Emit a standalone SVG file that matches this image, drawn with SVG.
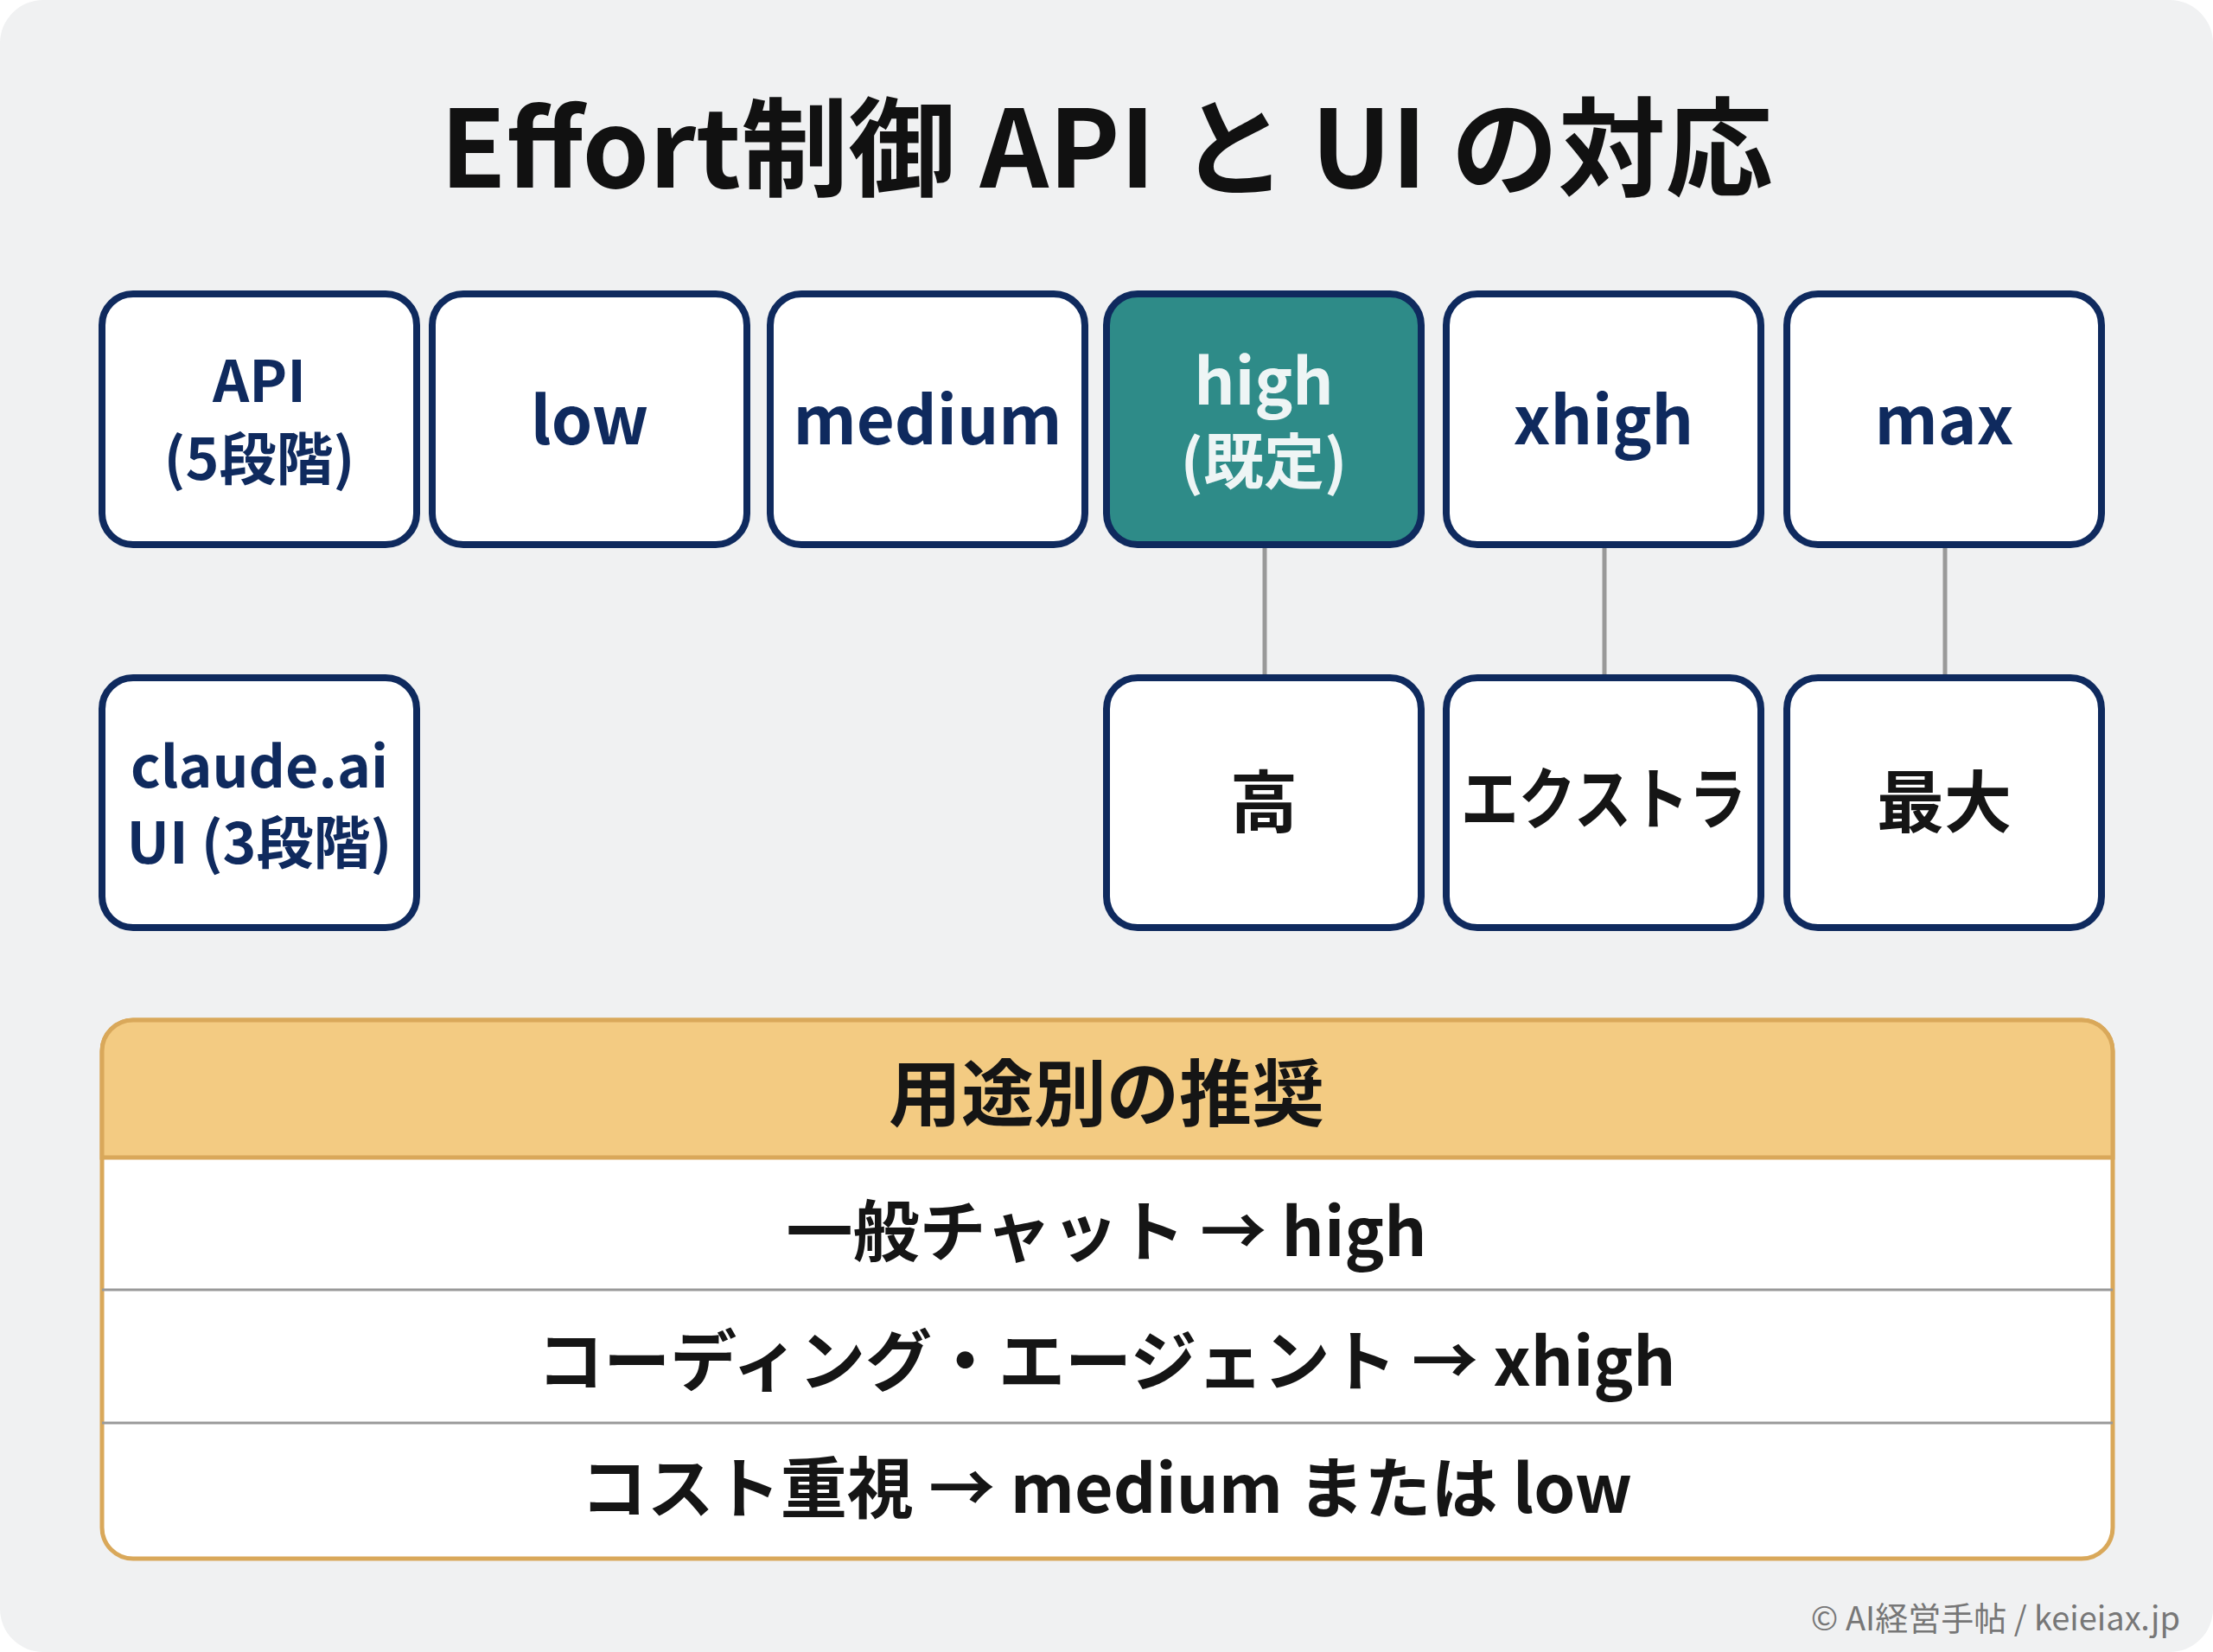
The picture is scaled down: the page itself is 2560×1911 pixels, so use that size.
<svg xmlns="http://www.w3.org/2000/svg" width="2560" height="1911" viewBox="0 0 2560 1911">
<style>
text{font-family:"Noto Sans CJK JP","Noto Sans",sans-serif;font-weight:700;text-anchor:middle}
.b{fill:#fff;stroke:#0f2a5e;stroke-width:8}
.n{fill:#0f2a5e;font-size:66px}
.l{fill:#0f2a5e;font-size:76px}
.k{fill:#151515;font-size:78px}
.r{fill:#151515;font-size:77px}
.c line{stroke:#999;stroke-width:5}
</style>
<rect width="2560" height="1911" fill="#fff"/>
<rect x="0" y="0" width="2560" height="1911" rx="50" fill="#f0f1f2"/>
<text x="1280" y="217" font-size="124" fill="#111">Effort制御 API と UI の対応</text>
<g class="c" id="connectors">
<line x1="1463" y1="631" x2="1463" y2="784"/>
<line x1="1856" y1="631" x2="1856" y2="784"/>
<line x1="2250" y1="631" x2="2250" y2="784"/>
</g>
<g id="api"><rect class="b" x="118" y="340" width="364" height="290" rx="36"/><text class="n" x="300" y="465">API</text><text class="n" x="300" y="555">(5段階)</text></g>
<g id="low"><rect class="b" x="500" y="340" width="364" height="290" rx="36"/><text class="l" x="682" y="514">low</text></g>
<g id="medium"><rect class="b" x="891" y="340" width="364" height="290" rx="36"/><text class="l" x="1073" y="514">medium</text></g>
<g id="high"><rect x="1280" y="340" width="364" height="290" rx="36" fill="#2e8b88" stroke="#0f2a5e" stroke-width="8"/><text x="1462" y="468" font-size="74" fill="#eef5f5">high</text><text x="1462" y="560" font-size="70" fill="#eef5f5">(既定)</text></g>
<g id="xhigh"><rect class="b" x="1673" y="340" width="364" height="290" rx="36"/><text class="l" x="1855" y="514">xhigh</text></g>
<g id="max"><rect class="b" x="2067" y="340" width="364" height="290" rx="36"/><text class="l" x="2249" y="514">max</text></g>
<g id="claude"><rect class="b" x="118" y="784" width="364" height="289" rx="36"/><text class="n" x="300" y="911" font-size="70">claude.ai</text><text class="n" x="300" y="999" font-size="70">UI (3段階)</text></g>
<g id="ui-high"><rect class="b" x="1280" y="784" width="364" height="289" rx="36"/><text class="k" x="1462" y="957">高</text></g>
<g id="ui-xhigh"><rect class="b" x="1673" y="784" width="364" height="289" rx="36"/><text class="k" x="1855" y="953" font-size="64" textLength="330" lengthAdjust="spacingAndGlyphs">エクストラ</text></g>
<g id="ui-max"><rect class="b" x="2067" y="784" width="364" height="289" rx="36"/><text class="k" x="2249" y="957">最大</text></g>
<g id="table">
<rect x="118" y="1180" width="2326" height="623" rx="36" fill="#fff" stroke="#d9a85a" stroke-width="5"/>
<path d="M118 1339 V1216 a36 36 0 0 1 36 -36 H2408 a36 36 0 0 1 36 36 V1339 Z" fill="#f3cb82" stroke="#d9a85a" stroke-width="5"/>
<text x="1280" y="1296" font-size="84" fill="#151515">用途別の推奨</text>
<line x1="118" y1="1492" x2="2444" y2="1492" stroke="#999" stroke-width="3"/>
<line x1="118" y1="1646" x2="2444" y2="1646" stroke="#999" stroke-width="3"/>
<text class="r" x="1280" y="1453">一般チャット → high</text>
<text class="r" x="1280" y="1603">コーディング・エージェント → xhigh</text>
<text class="r" x="1280" y="1750">コスト重視 → medium または low</text>
</g>
<text x="2522" y="1886" font-size="38" fill="#777" style="text-anchor:end;font-weight:400">© AI経営手帖 / keieiax.jp</text>
</svg>
